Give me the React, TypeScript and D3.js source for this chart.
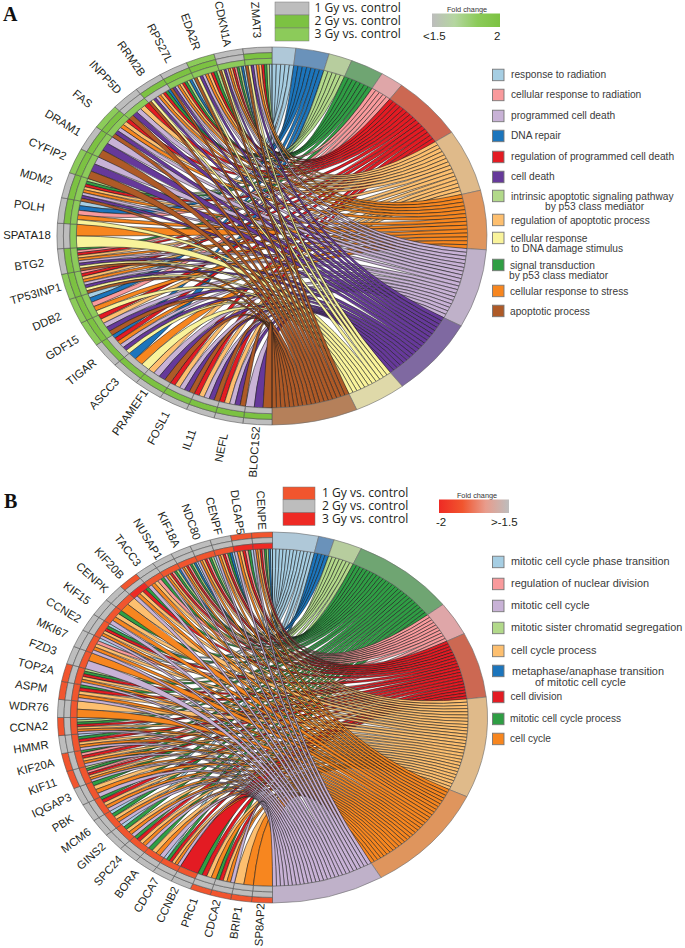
import React from "react";
import * as d3 from "d3";

// ---------- shared palette ----------
const paletteKeys = ["lb", "bl", "lg", "gr", "pk", "rd", "lo", "or", "lp", "pu", "ye", "br"];
const linkColors = ["#a6cee3", "#1c75bc", "#b2d98a", "#2f9e44", "#f99a9c", "#e31b23", "#fdbf6f", "#f7861f", "#c8b2d6", "#66399a", "#f9f39b", "#ae5a27"];
const ringColors = ["#afc8d8", "#6a92ba", "#b7cd9e", "#6fa572", "#dfa6a8", "#cc6852", "#dfba8a", "#df955d", "#bfb1c9", "#7f69a1", "#dfd9a9", "#b5805a"];

// ---------- panel A data ----------
const termKeysA = ["lb", "bl", "lg", "gr", "pk", "rd", "lo", "or", "lp", "pu", "ye", "br"];
const termSpanA = [6.4, 9, 6.4, 9, 6.3, 19.6, 19.3, 18.2, 24.2, 24.3, 14.1, 23.2];
const genesA = ["BLOC1S2", "NEFL", "IL11", "FOSL1", "PRAMEF1", "ASCC3", "TIGAR", "GDF15", "DDB2", "TP53INP1", "BTG2", "SPATA18", "POLH", "MDM2", "CYFIP2", "DRAM1", "FAS", "INPP5D", "RRM2B", "RPS27L", "EDA2R", "CDKN1A", "ZMAT3"];
const geneTermsA = [
  "br pu lp", "br pu lp lo rd", "br pu lp lo rd", "br pu lp lo rd", "br pu lp lo", "ye or bl",
  "ye pu lp or rd bl", "br pu lp lo rd", "ye or pk bl lb", "br ye pu lp or lo rd pk",
  "br ye pu lp or lo rd pk gr", "ye or", "ye or pk bl lb", "br pu lp or lo rd gr lg",
  "br pu lp", "br pu lp", "br pu lp or lo rd", "br pu lp lo rd", "br ye pu lp or lo rd gr bl",
  "br pu lp or lo rd gr lg bl lb", "br ye pu lp or lo rd gr lg",
  "br ye pu lp or lo rd pk gr lg bl lb", "br ye pu lp or lo rd gr lg lb",
];
const fold1A = [1.4, 1.4, 1.4, 1.4, 1.4, 1.4, 1.4, 1.9, 1.9, 1.9, 1.4, 1.4, 1.4, 1.4, 1.9, 1.4, 1.9, 1.4, 1.4, 1.4, 1.9, 1.4, 1.4];
const fold2A = [2, 2, 2, 2, 2, 2, 2, 2, 2, 2, 2, 1.4, 2, 2, 2, 2, 2, 1.4, 2, 2, 2, 1.4, 2];
const fold3A = [1.4, 1.4, 1.4, 1.4, 1.4, 1.4, 1.4, 1.9, 1.9, 1.9, 1.9, 1.9, 1.9, 1.9, 1.9, 1.9, 1.9, 1.9, 1.4, 1.9, 1.9, 1.9, 1.9];
const legendNamesA = ["response to radiation", "cellular response to radiation", "programmed cell death", "DNA repair", "regulation of programmed cell death", "cell death", "intrinsic apoptotic signaling pathway", "by p53 class mediator", "regulation of apoptotic process", "cellular response", "to DNA damage stimulus", "signal transduction", "by p53 class mediator", "cellular response to stress", "apoptotic process"];
const legendTextXA = [511, 511, 511, 511, 511, 511, 511, 545, 511, 510.5, 511, 510, 509, 510, 510];
const legendTextYA = [75, 95, 116, 136, 157, 177, 197, 207, 221, 239, 249, 266, 276, 292, 312];
const swatchKeysA = ["lb", "pk", "lp", "bl", "rd", "pu", "lg", "lo", "ye", "gr", "or", "br"];
const swatchYA = [75, 95, 116, 136, 157, 177, 196, 220, 238, 265, 291, 311];

// ---------- panel B data ----------
const termKeysB = ["lb", "bl", "lg", "gr", "pk", "rd", "lo", "or", "lp"];
const termSpanB = [12.4, 4.3, 7.7, 28.1, 10.6, 20.6, 31.6, 34.4, 30.3];
const genesB = ["SP8AP2", "BRIP1", "CDCA2", "PRC1", "CCNB2", "CDCA7", "BORA", "SPC24", "GINS2", "MCM6", "PBK", "IQGAP3", "KIF11", "KIF20A", "HMMR", "CCNA2", "WDR76", "ASPM", "TOP2A", "FZD3", "MKI67", "CCNE2", "KIF15", "CENPK", "KIF20B", "TACC3", "NUSAP1", "KIF18A", "NDC80", "CENPF", "DLGAP5", "CENPE"];
const geneTermsB = [
  "or", "or lo", "lp or lo rd gr", "or lo rd gr", "rd", "lp or lo rd gr lb", "lp or lo gr",
  "lp or lo rd gr", "lp or lo gr lb", "lp or lo gr lb", "lp or lo rd gr", "lp or lo gr",
  "lp or lo rd pk gr lg", "lp or lo rd pk gr", "lp or lo rd gr lb", "lp or lo rd gr lg lb",
  "or lo", "lp or lo rd gr", "lp or lo rd gr lg", "lp or", "lp or lo pk lb",
  "lp or lo rd gr lb", "lp or lo gr", "or lo", "lp or lo rd gr", "lp or lo pk gr",
  "lp or lo rd pk gr lg bl", "lp or lo rd pk gr lg bl lb", "lp or lo rd pk gr lg lb",
  "lp or lo rd pk gr bl lb", "lp or lo rd pk gr lb", "lp or lo rd pk gr lg bl lb",
];
const fold1B = [-1.9, -1.9, -1.9, -1.9, -1.4, -1.4, -1.4, -1.4, -1.4, -1.4, -1.4, -1.4, -1.9, -1.9, -1.4, -1.9, -1.4, -1.9, -1.9, -1.4, -1.4, -1.4, -1.4, -1.4, -1.9, -1.4, -1.4, -1.4, -1.4, -1.4, -1.9, -1.9];
const fold2B = [-1.4, -1.4, -1.4, -1.4, -1.4, -1.4, -1.4, -1.4, -1.4, -1.4, -1.4, -1.4, -1.4, -1.4, -1.4, -1.4, -1.4, -1.4, -1.4, -1.4, -1.4, -1.4, -1.4, -1.4, -1.4, -1.4, -1.4, -1.4, -1.4, -1.4, -1.4, -1.4];
const fold3B = [-1.4, -1.4, -1.4, -1.4, -1.9, -1.9, -1.9, -1.9, -1.9, -1.9, -1.9, -1.9, -1.9, -1.9, -1.9, -1.9, -1.9, -1.9, -1.9, -1.9, -1.9, -1.9, -1.9, -1.9, -2, -1.9, -1.9, -1.9, -1.9, -1.9, -2, -2];
const legendNamesB = ["mitotic cell cycle phase transition", "regulation of nuclear division", "mitotic cell cycle", "mitotic sister chromatid segregation", "cell cycle process", "metaphase/anaphase transition", "of mitotic cell cycle", "cell division", "mitotic cell cycle process", "cell cycle"];
const legendTextXB = [511, 511, 511, 511, 511, 512, 535, 510.5, 510, 510];
const legendTextYB = [562, 584, 606, 628, 651, 672, 683, 697, 719, 739];
const legendSizeB = [10.9, 10.9, 10.9, 10.9, 10.9, 10.9, 10.9, 10.1, 10.1, 10.1];
const swatchKeysB = ["lb", "pk", "lp", "lg", "lo", "bl", "rd", "gr", "or"];
const swatchYB = [562, 584, 606, 628, 651, 671, 697, 719, 739];

const doseLabels = ["1 Gy vs. control", "2 Gy vs. control", "3 Gy vs. control"];

const greenScale = d3.scaleLinear<string>().domain([1.5, 1.9, 2]).range(["#bdbdbd", "#8ccb5a", "#7cc242"]).clamp(true);
const redScale = d3.scaleLinear<string>().domain([-2, -1.9, -1.5]).range(["#ee2a24", "#f1552e", "#bdbdbd"]).clamp(true);

const rad = (d: number) => (d * Math.PI) / 180;
const colorOf = (k: string) => linkColors[paletteKeys.indexOf(k)];
const ringOf = (k: string) => ringColors[paletteKeys.indexOf(k)];
const SANS = "'Liberation Sans', Arial, sans-serif";
const LINK_R = 0.91;
const nss = { vectorEffect: "non-scaling-stroke" } as React.CSSProperties;

type ChordProps = {
  cx: number; cy: number; rx: number; ry: number;
  termKeys: string[]; termSpan: number[]; genes: string[]; geneTerms: string[];
  folds: number[][]; scale: (v: number) => string; labelDx: number; labelDy: number;
};

function Chord({ cx, cy, rx, ry, termKeys, termSpan, genes, geneTerms, folds, scale, labelDx, labelDy }: ChordProps) {
  const memberships = geneTerms.map((s) => s.split(" "));
  const arc = d3.arc<any>();
  const ribbon = d3.ribbon<any, any>().radius(LINK_R);
  const step = d3.scaleLinear().domain([0, genes.length]).range([rad(180), rad(360)]);
  const termEdges = d3.cumsum(termSpan);
  const termAngle = d3.scaleLinear().domain([0, 180]).range([0, Math.PI]);

  const ribbons: { d: string; key: string; id: string }[] = [];
  termKeys.forEach((tk, t) => {
    const a0 = termAngle(t === 0 ? 0 : termEdges[t - 1]);
    const a1 = termAngle(termEdges[t]);
    const owners = genes.map((_, g) => g).filter((g) => memberships[g].includes(tk)).reverse();
    const pos = d3.scaleLinear().domain([0, Math.max(owners.length, 1)]).range([a0, a1]);
    owners.forEach((g, i) => {
      const mine = memberships[g];
      const rank = mine.indexOf(tk);
      const inner = d3.scaleLinear().domain([0, mine.length]).range([step(g), step(g + 1)]);
      const d = ribbon({
        source: { startAngle: pos(i), endAngle: pos(i + 1) },
        target: { startAngle: inner(rank), endAngle: inner(rank + 1) },
      }) as unknown as string;
      ribbons.push({ d, key: tk, id: `${tk}-${g}` });
    });
  });

  const bands = [
    [0.97, 1.0],
    [0.94, 0.97],
    [LINK_R, 0.94],
  ];

  return (
    <g>
      <g transform={`translate(${cx},${cy}) scale(${rx},${ry})`}>
        {ribbons.map((r) => (
          <path key={r.id} d={r.d} fill={colorOf(r.key)} stroke="#1a1a1a" strokeWidth={0.55} style={nss} />
        ))}
        {termKeys.map((tk, t) => (
          <path
            key={tk}
            d={arc({ innerRadius: LINK_R, outerRadius: 1, startAngle: termAngle(t === 0 ? 0 : termEdges[t - 1]), endAngle: termAngle(termEdges[t]) }) as string}
            fill={ringOf(tk)} stroke="#6b6b6b" strokeWidth={0.6} style={nss}
          />
        ))}
        {genes.map((g, i) =>
          bands.map(([r0, r1], b) => (
            <path
              key={g + b}
              d={arc({ innerRadius: r0, outerRadius: r1, startAngle: step(i), endAngle: step(i + 1) }) as string}
              fill={scale(folds[b][i])} stroke="#4d4d4d" strokeWidth={0.55} style={nss}
            />
          ))
        )}
      </g>
      {genes.map((g, i) => {
        const a = (step(i) + step(i + 1)) / 2;
        const x = cx + (rx + labelDx) * Math.sin(a);
        const y = cy - (ry + labelDy) * Math.cos(a);
        const rot = (a * 180) / Math.PI - 270;
        return (
          <text key={g} transform={`translate(${x},${y}) rotate(${rot})`} textAnchor="middle" dominantBaseline="middle"
            fontFamily={SANS} fontSize={11.4} fill="#231f20">{g}</text>
        );
      })}
    </g>
  );
}

function DoseLegend({ x, y, w, h, textX, colors }: { x: number; y: number; w: number; h: number; textX: number; colors: string[] }) {
  return (
    <g>
      {doseLabels.map((t, i) => (
        <g key={t}>
          <rect x={x} y={y + i * h} width={w} height={h} fill={colors[i]} stroke="#777" strokeWidth={0.5} />
          <text x={textX} y={y + i * h + h / 2 + 0.3} dominantBaseline="middle" fontFamily="'Open Sans', sans-serif" fontSize={12.1} fill="#231f20">{t}</text>
        </g>
      ))}
    </g>
  );
}

function Swatches({ keys, ys }: { keys: string[]; ys: number[] }) {
  return (
    <g>
      {keys.map((k, i) => (
        <rect key={k} x={492.5} y={ys[i] - 5.8} width={11.5} height={11.5} fill={colorOf(k)} stroke="#777" strokeWidth={0.9} />
      ))}
    </g>
  );
}

export default function App() {
  return (
    <svg width={685} height={948} viewBox="0 0 685 948" style={{ position: "absolute", left: 0, top: 0, display: "block", background: "#fff" }}>
      <defs>
        <linearGradient id="gradA" x1="0" x2="1" y1="0" y2="0">
          {[1.5, 1.7, 1.9, 2].map((v, i) => <stop key={v} offset={`${(i / 3) * 100}%`} stopColor={i === 1 ? "#b5d6a0" : greenScale(v)} />)}
        </linearGradient>
        <linearGradient id="gradB" x1="0" x2="1" y1="0" y2="0">
          {[-2, -1.9, -1.7, -1.5].map((v, i) => <stop key={v} offset={`${(i / 3) * 100}%`} stopColor={i === 2 ? "#e89c8c" : redScale(v)} />)}
        </linearGradient>
      </defs>

      <text x={3} y={21} fontFamily="'Liberation Serif', serif" fontWeight="bold" fontSize={20} fill="#111">A</text>
      <text x={4} y={508} fontFamily="'Liberation Serif', serif" fontWeight="bold" fontSize={20} fill="#111">B</text>

      <Chord cx={272} cy={236} rx={215} ry={189} termKeys={termKeysA} termSpan={termSpanA} genes={genesA} geneTerms={geneTermsA}
        folds={[fold1A, fold2A, fold3A]} scale={greenScale} labelDx={30} labelDy={27.5} />
      <Chord cx={272.5} cy={717.5} rx={215} ry={185.5} termKeys={termKeysB} termSpan={termSpanB} genes={genesB} geneTerms={geneTermsB}
        folds={[fold1B, fold2B, fold3B]} scale={redScale} labelDx={29} labelDy={22} />

      <DoseLegend x={275} y={2} w={34} h={13} textX={314.5} colors={["#bdbdbd", "#7cc242", "#8ccb5a"]} />
      <DoseLegend x={283} y={487} w={32} h={12.8} textX={322} colors={["#f1552e", "#bdbdbd", "#ee2a24"]} />

      <text x={467} y={12} textAnchor="middle" fontFamily={SANS} fontSize={7.3} fill="#333">Fold change</text>
      <rect x={432} y={13.5} width={68} height={13.5} fill="url(#gradA)" />
      <text x={423} y={40} fontFamily={SANS} fontSize={11.5} fill="#231f20">&lt;1.5</text>
      <text x={494} y={40} fontFamily={SANS} fontSize={11.5} fill="#231f20">2</text>

      <text x={477} y={498} textAnchor="middle" fontFamily={SANS} fontSize={7.3} fill="#333">Fold change</text>
      <rect x={439} y={499.5} width={70} height={13.5} fill="url(#gradB)" />
      <text x={436} y={526} fontFamily={SANS} fontSize={11.5} fill="#231f20">-2</text>
      <text x={491} y={526} fontFamily={SANS} fontSize={11.5} fill="#231f20">&gt;-1.5</text>

      <Swatches keys={swatchKeysA} ys={swatchYA} />
      {legendNamesA.map((t, i) => (
        <text key={t + i} x={legendTextXA[i]} y={legendTextYA[i]} dominantBaseline="middle" fontFamily={SANS} fontSize={10.2} fill="#3a3a3a">{t}</text>
      ))}
      <Swatches keys={swatchKeysB} ys={swatchYB} />
      {legendNamesB.map((t, i) => (
        <text key={t + i} x={legendTextXB[i]} y={legendTextYB[i]} dominantBaseline="middle" fontFamily={SANS} fontSize={legendSizeB[i]} fill="#3a3a3a">{t}</text>
      ))}
    </svg>
  );
}
